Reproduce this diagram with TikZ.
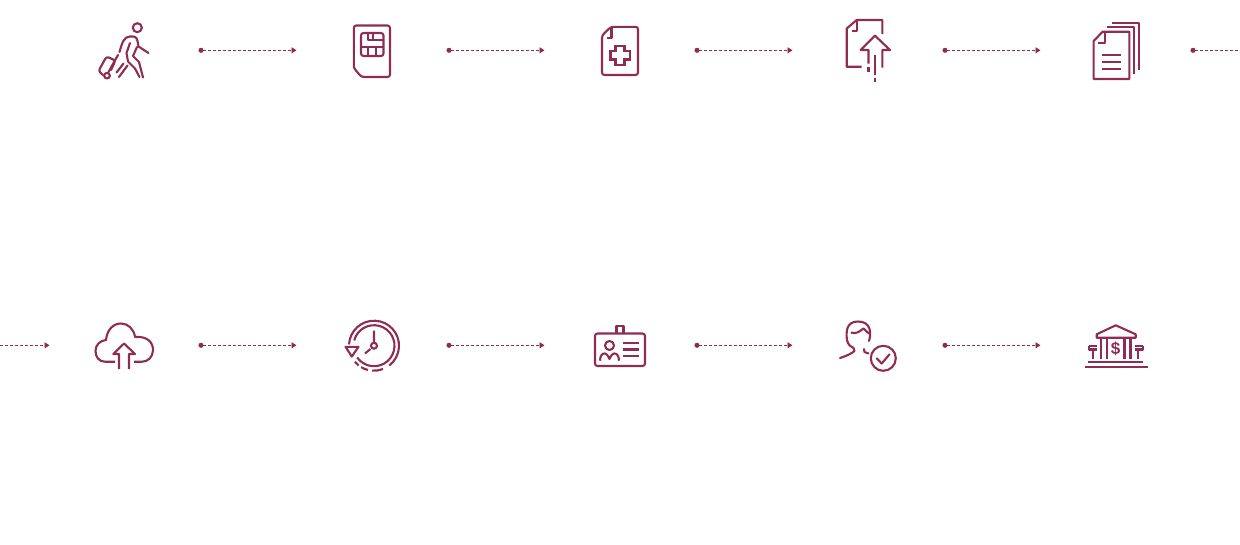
\documentclass[tikz,border=0pt]{standalone}
\usepackage{tikz}
\usepackage{xcolor}
\usepackage{fontspec}
\setsansfont{Liberation Sans}
\usetikzlibrary{arrows.meta}
\definecolor{wine}{HTML}{8F2C54}
\tikzset{
    link/.style={wine, line width=0.9pt, dash pattern=on 3pt off 2pt, {Circle[length=5pt]}-{Triangle[length=5pt,width=6pt]}},
    openlink/.style={wine, line width=0.9pt, dash pattern=on 3pt off 2pt, {Circle[length=5pt]}-},
    tiplink/.style={wine, line width=0.9pt, dash pattern=on 3pt off 2pt, -{Triangle[length=5pt,width=6pt]}},
    icon/.style={draw=wine, line width=2.1pt, line join=round},
    round/.style={rounded corners=2.5pt}
}
\begin{document}
\begin{tikzpicture}[x=1pt, y=-1pt]
        \useasboundingbox (0, 0) rectangle (1240, 544);

        \foreach \x in {199, 447, 695, 943} {
            \coordinate (topstart\x) at (\x-.5, 50.3);
            \coordinate (topend\x) at (\x+97.5, 50.3);
            \coordinate (lowstart\x) at (\x-.5, 345.3);
            \coordinate (lowend\x) at (\x+97.5, 345.3);
            \draw[link] (topstart\x) -- (topend\x);
            \draw[link] (lowstart\x) -- (lowend\x);
        }
        \coordinate (topstart) at (1190.5, 50.3);
        \coordinate (topend) at (1241, 50.3);
        \coordinate (lowstart) at (0, 345.3);
        \coordinate (lowend) at (49.5, 345.3);
        \draw[openlink] (topstart) -- (topend);
        \draw[tiplink] (lowstart) -- (lowend);

        % traveller
        \draw[icon] (137.3, 27.7) circle (4.5);
        \draw[icon, line cap=round] (119.5, 52) .. controls (122, 43) and (124, 36.5) .. (130, 36.5)
            .. controls (134, 36) and (137, 37) .. (137.5, 41) -- (138.5, 46.5) -- (148.5, 53);
        \draw[icon, line cap=round] (130, 43) -- (126.5, 53) -- (128, 61.5) -- (135, 68.5) -- (139.5, 77);
        \draw[icon, line cap=round] (137, 47) -- (133, 56) -- (139, 62) -- (143, 77.5);
        \draw[icon, line cap=round] (123.5, 63.5) -- (116.5, 72.5)
            (127.5, 65.5) -- (119, 77);
        \draw[icon, round, line cap=round] (103, 75) -- (98.5, 71) -- (106.5, 56.5) -- (115.5, 60.5) -- (111, 70);
        \draw[icon, line cap=round] (108.5, 72) -- (118, 55);
        \draw[icon] (107, 75.7) circle (2.8);

        % sim card
        \draw[icon, round] (353.8, 25.5) -- (390, 25.5) -- (390, 77) -- (361.5, 77) -- (353.8, 68) -- cycle;
        \draw[icon, round] (361, 33) rectangle (383.5, 56);
        \draw[icon] (373.3, 33) -- (373.3, 40) -- (383.5, 40)
            (368.3, 33) -- (368.3, 40) -- (373.3, 40)
            (361, 47.3) -- (383.5, 47.3)
            (368.3, 47.3) -- (368.3, 56)
            (375.7, 47.3) -- (375.7, 56);

        % medical file
        \draw[icon, round] (602, 35.5) -- (611, 26.8) -- (638, 26.8) -- (638, 75) -- (602, 75) -- cycle;
        \draw[icon] (611.5, 26.8) -- (611.5, 38) -- (606.5, 38);
        \draw[icon, miter limit=4, line join=miter] (615.5, 46) -- (624.5, 46) -- (624.5, 51) -- (630, 51) -- (630, 59.5) -- (624.5, 59.5)
            -- (624.5, 65) -- (615.5, 65) -- (615.5, 59.5) -- (610.5, 59.5) -- (610.5, 51) -- (615.5, 51) -- cycle;

        % file upload
        \draw[icon] (882.3, 34) -- (882.3, 20) -- (856.7, 20) -- (846.7, 28.5) -- (846.7, 66.7) -- (861.7, 66.7);
        \draw[icon] (856.7, 20) -- (856.7, 31) -- (851.5, 31);
        \draw[icon] (868.5, 63.5) -- (868.5, 50) -- (860.7, 50) -- (875, 35.7) -- (890, 50) -- (882.3, 50) -- (882.3, 67.5);
        \draw[icon] (868.5, 67) -- (868.5, 72)
            (875, 55) -- (875, 75)
            (875, 78) -- (875, 82);

        % papers
        \draw[icon] (1093.6, 41) -- (1102.7, 31.7) -- (1129.3, 31.7) -- (1129.3, 79) -- (1093.6, 79) -- cycle;
        \draw[icon] (1105, 31.7) -- (1105, 42.7) -- (1098.3, 42.7);
        \draw[icon] (1101.7, 55) -- (1121, 55)
            (1101.7, 61.7) -- (1121, 61.7)
            (1101.7, 68.7) -- (1121, 68.7);
        \draw[icon] (1107.3, 26.7) -- (1134, 26.7) -- (1134, 74);
        \draw[icon] (1112.3, 22.7) -- (1138.7, 22.7) -- (1138.7, 70);

        % cloud upload
        \draw[icon] (115, 361.7) -- (105, 361.7) .. controls (99, 361.7) and (95.5, 357) .. (95.5, 351)
            .. controls (95.5, 345) and (100, 340.5) .. (106, 340)
            .. controls (107, 330) and (113, 323.5) .. (121, 323.5)
            .. controls (128, 323.5) and (134, 329) .. (135, 337)
            .. controls (147, 336) and (153, 342) .. (153, 350)
            .. controls (153, 357) and (148, 361.7) .. (142, 361.7) -- (134, 361.7);
        \draw[icon] (119, 369) -- (119, 354) -- (113.3, 354) -- (124, 343.5) -- (135, 354) -- (129, 354) -- (129, 369);

        % clock
        \begin{scope}[shift={(374, 345.7)}]
            \draw[icon] (177:25pt) arc[start angle=177, end angle=-52, radius=25pt];
            \draw[icon] (165:20.5pt) arc[start angle=165, end angle=-145, radius=20.5pt];
            \foreach \a/\b in {-69/-95, -104/-121, -128/-140} {
                \draw[icon] (\a:25pt) arc[start angle=\a, end angle=\b, radius=25pt];
            }
        \end{scope}
        \draw[icon] (345.5, 346.8) -- (358.5, 346.8) -- (351.8, 356.5) -- cycle;
        \draw[icon] (374, 330.7) -- (374, 342.7)
            (370.5, 349) -- (365, 353.5);
        \draw[icon] (374, 345.7) circle (3);

        % badge
        \draw[icon, round] (595, 333.5) rectangle (645, 366);
        \draw[icon] (616.5, 333.5) -- (616.5, 326) -- (623.5, 326) -- (623.5, 333.5);
        \draw[icon] (609.5, 345.5) circle (4.5);
        \draw[icon] (600, 360.7) .. controls (600, 355) and (603, 353) .. (605, 353.5)
            .. controls (607.5, 354) and (609, 358) .. (609.5, 359)
            .. controls (610, 358) and (611.5, 354) .. (614, 353.5)
            .. controls (616, 353) and (619, 355) .. (619, 360.7);
        \draw[icon] (623.3, 343.3) -- (638.5, 343.3)
            (623.3, 349.5) -- (638.5, 349.5)
            (623.3, 355.7) -- (638.5, 355.7);

        % person with tick
        \draw[icon, line cap=round] (869, 341) .. controls (871.5, 333) and (871, 321.5) .. (858, 321.5)
            .. controls (846, 321.5) and (846, 332) .. (847, 340)
            .. controls (848, 345) and (851, 347) .. (853.5, 348) -- (854.5, 351)
            .. controls (851, 354) and (846, 356) .. (840, 358);
        \draw[icon, line cap=round] (851.5, 332.7) .. controls (856, 334) and (859, 332) .. (863.5, 328.5)
            .. controls (866, 331) and (868, 333) .. (870, 334);
        \draw[icon, line cap=round] (864, 349) -- (864.5, 352) -- (868.5, 353.5);
        \draw[icon] (883.3, 358.3) circle (12.5);
        \draw[icon, line cap=round] (876.7, 358.3) -- (881.7, 363.5) -- (889.5, 354.3);

        % bank
        \draw[icon] (1096.7, 337.7) -- (1096.7, 334.3) -- (1115.7, 325.3) -- (1135.7, 334.3) -- (1135.7, 337.7) -- cycle;
        \draw[icon] (1101, 338) -- (1101, 358.5)
            (1106.7, 338) -- (1106.7, 358.5)
            (1124.5, 338) -- (1124.5, 358.5)
            (1130.5, 338) -- (1130.5, 358.5);
        \node[wine, font=\sffamily\bfseries\fontsize{17}{17}\selectfont, inner sep=0pt] (dollar) at (1115.7, 348.5) {\$};
        \draw[icon] (1089, 345.7) -- (1097, 345.7)
            (1089, 345.7) -- (1089, 349.5) -- (1097, 349.5)
            (1093.3, 349.5) -- (1093.3, 358.5);
        \draw[icon] (1134.5, 345.7) -- (1143, 345.7)
            (1143, 345.7) -- (1143, 349.5) -- (1134.5, 349.5)
            (1138.3, 349.5) -- (1138.3, 358.5);
        \draw[icon] (1088.3, 361.7) -- (1143.3, 361.7)
            (1085, 366.7) -- (1147.7, 366.7);
    \end{tikzpicture}
\end{document}
